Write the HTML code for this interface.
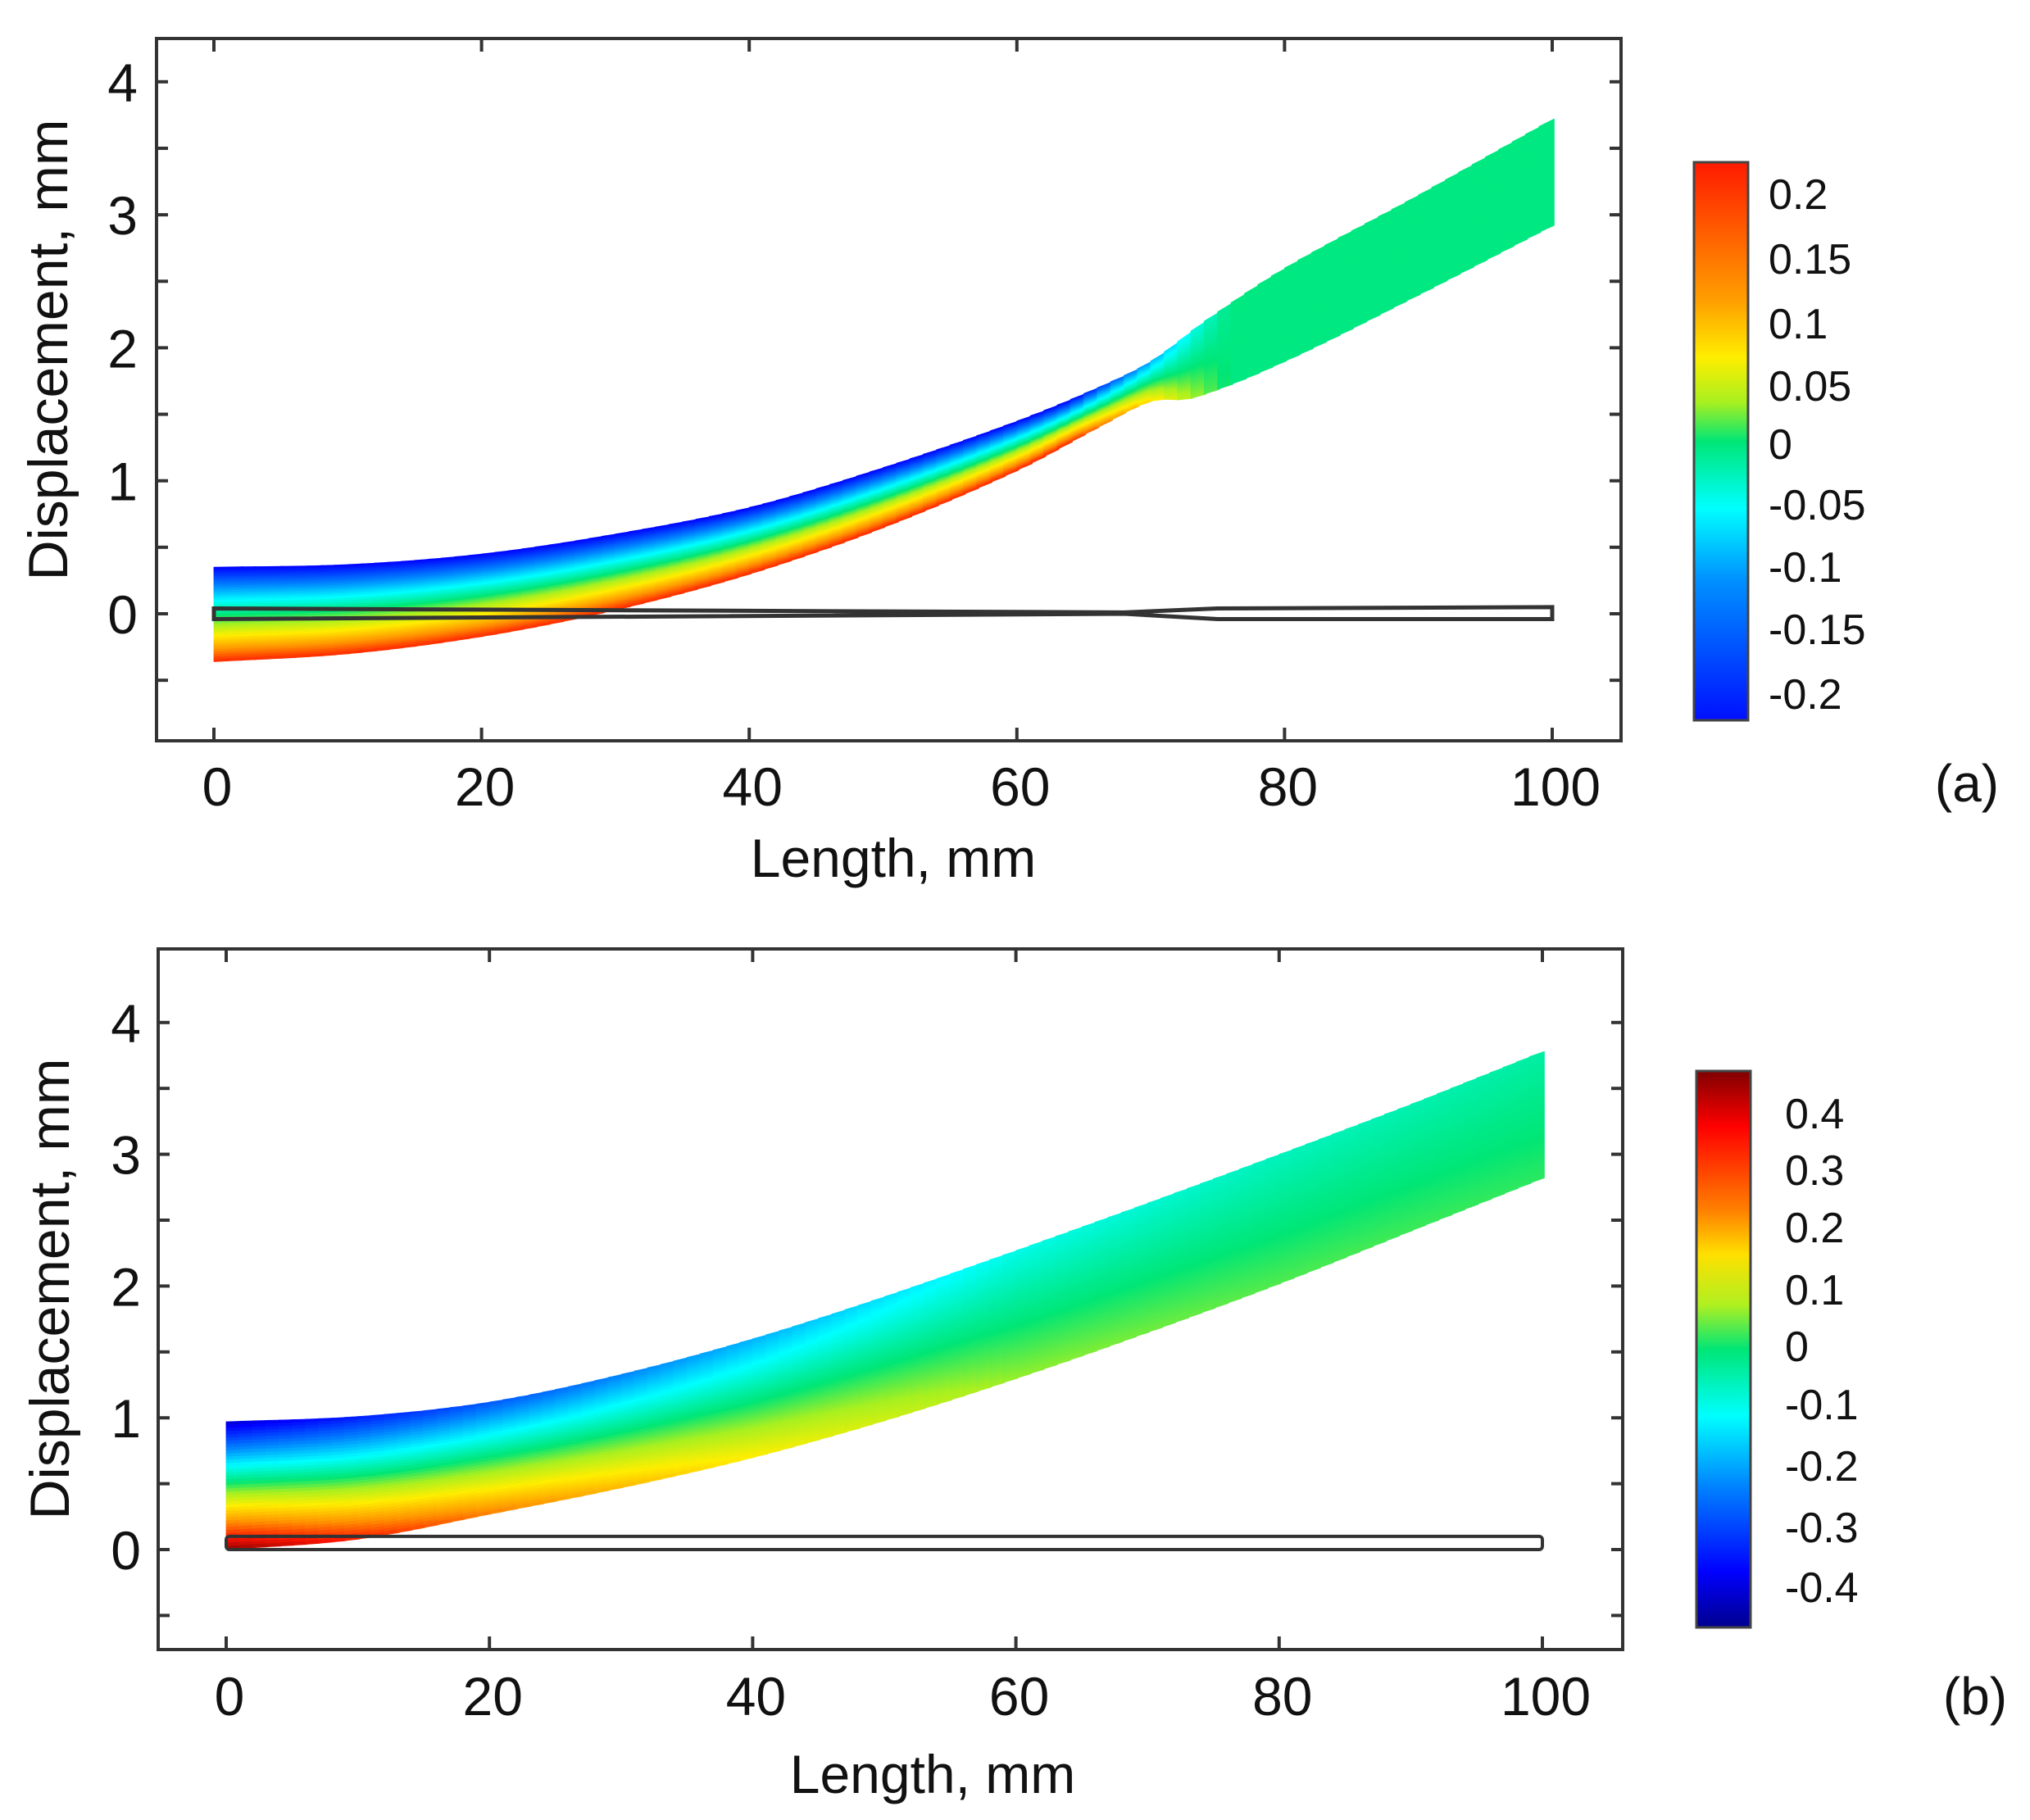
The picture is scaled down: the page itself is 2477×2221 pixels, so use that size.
<!DOCTYPE html>
<html><head><meta charset="utf-8">
<style>
html,body{margin:0;padding:0;background:#fff;}
svg{display:block;}
text{font-family:"Liberation Sans",sans-serif;fill:#111;}
</style></head>
<body>
<svg id="s" width="2477" height="2221" viewBox="0 0 2477 2221" xmlns="http://www.w3.org/2000/svg">
<defs>
<linearGradient id="cba" x1="0" y1="0" x2="0" y2="1">
<stop offset="0" stop-color="#ff1a00"/><stop offset="0.12" stop-color="#ff5a00"/>
<stop offset="0.25" stop-color="#ffa000"/><stop offset="0.35" stop-color="#ffee00"/>
<stop offset="0.43" stop-color="#a8f020"/><stop offset="0.5" stop-color="#00e676"/>
<stop offset="0.62" stop-color="#00ffff"/><stop offset="0.75" stop-color="#0090ff"/>
<stop offset="1" stop-color="#0010ff"/></linearGradient>
<linearGradient id="cbb" x1="0" y1="0" x2="0" y2="1">
<stop offset="0" stop-color="#800000"/><stop offset="0.1" stop-color="#ff0000"/>
<stop offset="0.25" stop-color="#ff8000"/><stop offset="0.33" stop-color="#ffe000"/>
<stop offset="0.42" stop-color="#b0f020"/><stop offset="0.5" stop-color="#00e676"/>
<stop offset="0.62" stop-color="#00ffff"/><stop offset="0.75" stop-color="#0080ff"/>
<stop offset="0.9" stop-color="#0000ff"/><stop offset="1" stop-color="#00008f"/></linearGradient>
</defs>
<g id="bands"></g>
<g id="frames" fill="none" stroke="#333" stroke-width="4"></g>
<rect x="2067" y="198" width="66" height="681" fill="url(#cba)" stroke="#444" stroke-width="3"/>
<rect x="2070" y="1307" width="66" height="679" fill="url(#cbb)" stroke="#444" stroke-width="3"/>
<g font-size="52">
<text x="2158" y="255">0.2</text><text x="2158" y="334">0.15</text><text x="2158" y="413">0.1</text>
<text x="2158" y="489">0.05</text><text x="2158" y="560">0</text><text x="2158" y="634">-0.05</text>
<text x="2158" y="710">-0.1</text><text x="2158" y="786">-0.15</text><text x="2158" y="865">-0.2</text>
<text x="2178" y="1377">0.4</text><text x="2178" y="1446">0.3</text><text x="2178" y="1516">0.2</text>
<text x="2178" y="1592">0.1</text><text x="2178" y="1661">0</text><text x="2178" y="1732">-0.1</text>
<text x="2178" y="1807">-0.2</text><text x="2178" y="1882">-0.3</text><text x="2178" y="1955">-0.4</text>
</g>
<g id="labels" font-size="66"></g>
<text x="1090" y="1070" font-size="66" text-anchor="middle">Length, mm</text>
<text x="1138" y="2188" font-size="66" text-anchor="middle">Length, mm</text>
<text transform="translate(82,427) rotate(-90)" font-size="68" text-anchor="middle">Displacement, mm</text>
<text transform="translate(84,1573) rotate(-90)" font-size="68" text-anchor="middle">Displacement, mm</text>
<text x="2400" y="978" font-size="64" text-anchor="middle">(a)</text>
<text x="2410" y="2092" font-size="64" text-anchor="middle">(b)</text>
</svg>
<script>
var NS="http://www.w3.org/2000/svg";
function el(p,n,a){var e=document.createElementNS(NS,n);for(var k in a)e.setAttribute(k,a[k]);p.appendChild(e);return e;}
var stops=[[0,[0,0,143]],[0.1,[0,0,255]],[0.25,[0,128,255]],[0.38,[0,255,255]],[0.5,[0,230,118]],[0.58,[168,240,32]],[0.67,[255,238,0]],[0.78,[255,150,0]],[0.9,[255,20,0]],[1,[128,0,0]]];
function cmap(p){p=Math.max(0,Math.min(1,p));for(var i=1;i<stops.length;i++){if(p<=stops[i][0]){var a=stops[i-1],b=stops[i],f=(p-a[0])/(b[0]-a[0]);return "rgb("+[0,1,2].map(function(j){return Math.round(a[1][j]+(b[1][j]-a[1][j])*f)}).join(",")+")";}}return "rgb(128,0,0)";}
function interp(pts,x){for(var i=1;i<pts.length;i++){if(x<=pts[i][0]){var a=pts[i-1],b=pts[i];var f=(x-a[0])/(b[0]-a[0]);
 var p0=pts[Math.max(0,i-2)],p3=pts[Math.min(pts.length-1,i+1)];
 var m1=(b[1]-p0[1])/(b[0]-p0[0])*(b[0]-a[0]),m2=(p3[1]-a[1])/(p3[0]-a[0])*(b[0]-a[0]);
 var f2=f*f,f3=f2*f;return (2*f3-3*f2+1)*a[1]+(f3-2*f2+f)*m1+(-2*f3+3*f2)*b[1]+(f3-f2)*m2;}}return pts[pts.length-1][1];}
var G=document.getElementById("bands");
function band(top,bot,X,Y,col){
 var NL=40,NS2=100;
 for(var i=0;i<NS2;i++){var x0=i,x1=i+1;var xm=(x0+x1)/2;
  for(var j=0;j<NL;j++){var t0=j/NL,t1=(j+1)/NL,tm=(t0+t1)/2;
   var a0=interp(top,x0),b0=interp(bot,x0),a1=interp(top,x1),b1=interp(bot,x1);
   var pts=[[X(x0),Y(a0+(b0-a0)*t0)],[X(x1+0.15),Y(a1+(b1-a1)*t0)],[X(x1+0.15),Y(a1+(b1-a1)*t1)],[X(x0),Y(a0+(b0-a0)*t1)]];
   var c=col(xm,tm);
   el(G,"polygon",{points:pts.map(function(p){return p[0].toFixed(1)+","+p[1].toFixed(1)}).join(" "),fill:c,stroke:c,"stroke-width":"0.8"});
  }}
}
var Xa=function(x){return 261+x*16.33},Ya=function(y){return 749-y*162.3};
var topA=[[0,0.35],[10,0.37],[20,0.45],[30,0.6],[40,0.8],[50,1.1],[60,1.45],[66,1.7],[70,1.9],[74,2.2],[80,2.6],[90,3.15],[100,3.72]];
var botA=[[0,-0.36],[10,-0.3],[20,-0.17],[30,0.03],[40,0.3],[50,0.65],[60,1.08],[66,1.4],[70,1.6],[73,1.62],[80,1.9],[90,2.4],[100,2.92]];
band(topA,botA,Xa,Ya,function(x,t){var s=x<64?1:(x>76?0:1-(x-64)/12);var p=0.1+0.78*t;return cmap(p*s+0.49*(1-s));});
var Xb=function(x){return 276+x*16.06},Yb=function(y){return 1891-y*160.8};
var topB=[[0,0.97],[10,1.01],[20,1.12],[30,1.33],[40,1.6],[50,1.92],[60,2.27],[70,2.63],[80,3.0],[90,3.38],[100,3.78]];
var botB=[[0,0.0],[10,0.08],[20,0.27],[30,0.47],[40,0.7],[50,0.98],[60,1.3],[70,1.65],[80,2.02],[90,2.42],[100,2.82]];
function lerpPts(pts,x){for(var i=1;i<pts.length;i++){if(x<=pts[i][0]){var a=pts[i-1],b=pts[i],f=(x-a[0])/(b[0]-a[0]);return a[1]+(b[1]-a[1])*f;}}return pts[pts.length-1][1];}
var cB=[[0,0.52],[40,0.485],[60,0.485],[100,0.49]],wB=[[0,0.93],[20,0.6],[40,0.37],[60,0.17],[80,0.1],[100,0.06]];
band(topB,botB,Xb,Yb,function(x,t){return cmap(lerpPts(cB,x)+(t-0.5)*lerpPts(wB,x));});
el(G,"path",{d:"M"+Xa(0)+","+Ya(0.04)+" L"+Xa(68)+","+Ya(0.01)+" L"+Xa(75)+","+Ya(0.04)+" L"+Xa(100)+","+Ya(0.05)+" L"+Xa(100)+","+Ya(-0.04)+" L"+Xa(75)+","+Ya(-0.04)+" L"+Xa(68)+","+Ya(0.0)+" L"+Xa(0)+","+Ya(-0.04)+" Z",fill:"none",stroke:"#333","stroke-width":"5"});
el(G,"rect",{x:Xb(0),y:Yb(0.1),width:Xb(100)-Xb(0),height:Yb(0)-Yb(0.1),rx:4,fill:"none",stroke:"#333","stroke-width":"4"});
var F=document.getElementById("frames"),L=document.getElementById("labels");
function frame(l,r,t,b,X,Y,ylo,yhi,txy,tly){
 el(F,"rect",{x:l,y:t,width:r-l,height:b-t});
 for(var x=0;x<=100;x+=20){var px=X(x);el(F,"line",{x1:px,y1:b,x2:px,y2:b-16});el(F,"line",{x1:px,y1:t,x2:px,y2:t+16});
  var tx=el(L,"text",{x:px+4,y:tly,"text-anchor":"middle"});tx.textContent=x;}
 for(var y=ylo;y<=yhi+1e-6;y+=0.5){var py=Y(y);el(F,"line",{x1:l,y1:py,x2:l+14,y2:py});el(F,"line",{x1:r,y1:py,x2:r-14,y2:py});
  if(Math.abs(y-Math.round(y))<1e-6&&y>=0){var ty=el(L,"text",{x:txy,y:py+24,"text-anchor":"end"});ty.textContent=Math.round(y);}}
}
frame(191,1978,47,904,Xa,Ya,-0.5,4.0,168,983);
frame(193,1980,1158,2013,Xb,Yb,-0.5,4.0,172,2093);
</script>
</body></html>
